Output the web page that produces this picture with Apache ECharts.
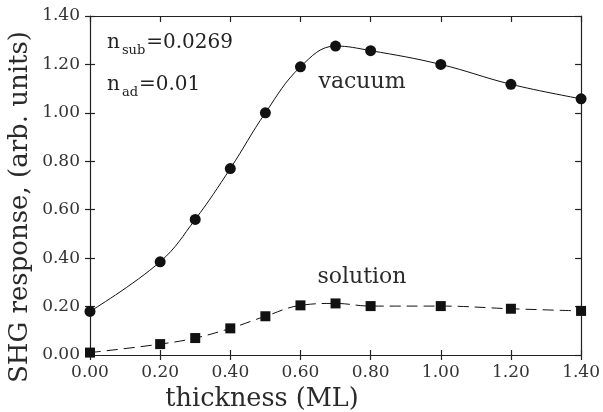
<!DOCTYPE html>
<html>
<head>
<meta charset="utf-8">
<script src="https://cdn.jsdelivr.net/npm/echarts@6/dist/echarts.min.js"></script>
<style>html,body{margin:0;padding:0;background:#fff;}#c{width:603px;height:412px;}</style>
</head>
<body>
<div id="c"></div>
<script>
var thickness = [0, 0.2, 0.3, 0.4, 0.5, 0.6, 0.7, 0.8, 1.0, 1.2, 1.4];
var vacuum   = [0.18, 0.385, 0.56, 0.77, 1.00, 1.19, 1.276, 1.257, 1.20, 1.118, 1.058];
var solution = [0.01, 0.045, 0.07, 0.11, 0.16, 0.205, 0.213, 0.202, 0.202, 0.191, 0.182];
var xTicks = ['0.00','0.20','0.40','0.60','0.80','1.00','1.20','1.40'];
var yTicks = ['0.00','0.20','0.40','0.60','0.80','1.00','1.20','1.40'];

var FONT = 'DejaVu Serif';
function pairs(xs, ys){ return xs.map(function(x,i){ return [x, ys[i]]; }); }
function lbl(v){ return xTicks[Math.round(v/0.2)] || v.toFixed(2); }
function lblY(v){ return yTicks[Math.round(v/0.2)] || v.toFixed(2); }
var axisBase = { type:'value', min:0, max:1.4, interval:0.2, splitLine:{show:false} };
function mk(extra){ return Object.assign({}, axisBase, extra); }
var ls = {color:'#222', width:1.2};

var chart = echarts.init(document.getElementById('c'), null, {renderer:'canvas'});
chart.setOption({
  animation:false,
  backgroundColor:'#fff',
  grid:{left:90, right:19, top:16, bottom:57},
  xAxis:[
    mk({position:'bottom', axisLine:{onZero:false, lineStyle:ls}, axisTick:{inside:false, length:5, lineStyle:ls},
        axisLabel:{margin:9, color:'#333', fontFamily:FONT, fontSize:17, formatter:lbl}}),
    mk({position:'top', axisLine:{onZero:false, lineStyle:ls}, axisTick:{inside:true, length:6, lineStyle:ls}, axisLabel:{show:false}}),
    mk({position:'bottom', axisLine:{onZero:false, show:false}, axisTick:{inside:true, length:5, lineStyle:ls}, axisLabel:{show:false}})
  ],
  yAxis:[
    mk({position:'left', axisLine:{onZero:false, lineStyle:ls}, axisTick:{inside:false, length:5, lineStyle:ls},
        axisLabel:{margin:10, color:'#333', fontFamily:FONT, fontSize:17, formatter:lblY}}),
    mk({position:'right', axisLine:{onZero:false, lineStyle:ls}, axisTick:{inside:true, length:6, lineStyle:ls}, axisLabel:{show:false}}),
    mk({position:'left', axisLine:{onZero:false, show:false}, axisTick:{inside:true, length:5, lineStyle:ls}, axisLabel:{show:false}})
  ],
  series:[
    {type:'line', name:'vacuum', data:pairs(thickness, vacuum), smooth:0.4,
     symbol:'circle', symbolSize:11, itemStyle:{color:'#111'}, lineStyle:{color:'#111', width:1}},
    {type:'line', name:'solution', data:pairs(thickness, solution), smooth:0.4,
     symbol:'rect', symbolSize:10, itemStyle:{color:'#111'}, lineStyle:{color:'#111', width:1, type:[11,6]}}
  ],
  graphic:[
    {type:'text', x:20, y:207, rotation:Math.PI/2,
     style:{text:'SHG response, (arb. units)', fontFamily:FONT, fontSize:26, fill:'#2a2a2a', align:'center', verticalAlign:'middle'}},
    {type:'text', x:262, y:399,
     style:{text:'thickness (ML)', fontFamily:FONT, fontSize:25.5, fill:'#2a2a2a', align:'center', verticalAlign:'middle'}},
    {type:'text', x:362, y:82,
     style:{text:'vacuum', fontFamily:FONT, fontSize:22, fill:'#2a2a2a', align:'center', verticalAlign:'middle'}},
    {type:'text', x:362, y:277,
     style:{text:'solution', fontFamily:FONT, fontSize:22, fill:'#2a2a2a', align:'center', verticalAlign:'middle'}},
    {type:'text', x:107, y:43,
     style:{text:'{n|n}{s|sub}{n|=0.0269}', fill:'#222', align:'left', verticalAlign:'middle',
       rich:{n:{fontFamily:FONT, fontSize:20, fill:'#222'}, s:{fontFamily:FONT, fontSize:13, fill:'#222', padding:[15,1,0,2]}}}},
    {type:'text', x:107, y:85,
     style:{text:'{n|n}{s|ad}{n|=0.01}', fill:'#222', align:'left', verticalAlign:'middle',
       rich:{n:{fontFamily:FONT, fontSize:20, fill:'#222'}, s:{fontFamily:FONT, fontSize:13, fill:'#222', padding:[15,1,0,2]}}}}
  ]
});
</script>
</body>
</html>
